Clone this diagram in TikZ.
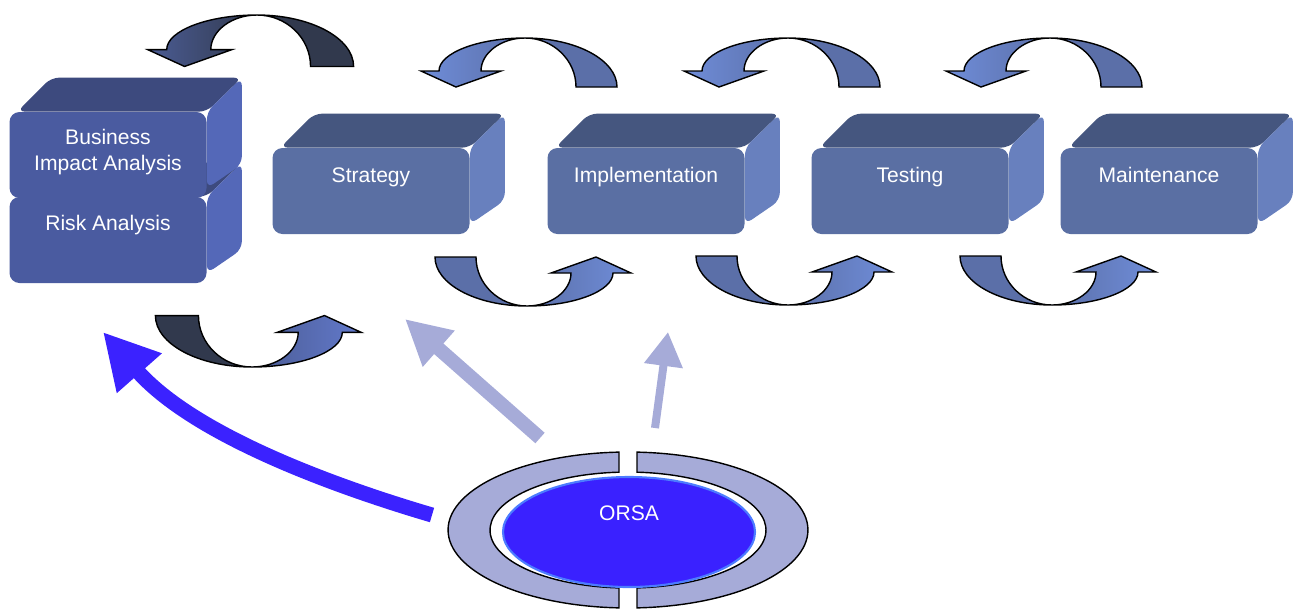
\documentclass[tikz,border=0pt]{standalone}
\usepackage{fontspec}
\setmainfont{Liberation Sans}
\usetikzlibrary{positioning}
\usetikzlibrary{arrows.meta,calc,shapes.geometric}
\pgfdeclarelayer{background}
\pgfsetlayers{background,main}
\newlength{\px}
\setlength{\px}{0.02cm}
\definecolor{boxfront}{HTML}{5A6FA3}
\definecolor{boxtop}{HTML}{45567F}
\definecolor{boxside}{HTML}{6880BE}
\definecolor{biafront}{HTML}{4A5BA0}
\definecolor{biatop}{HTML}{3D4A7E}
\definecolor{biaside}{HTML}{5468B8}
\definecolor{utail}{HTML}{5B6FA8}
\definecolor{ulight}{HTML}{6F8DD9}
\definecolor{dtail}{HTML}{31394D}
\definecolor{dmid}{HTML}{4B5C94}
\definecolor{dlight}{HTML}{6279CB}
\definecolor{ringblue}{HTML}{A6ABD8}
\definecolor{orsablue}{HTML}{3A21FF}
\definecolor{orsaedge}{HTML}{4C7CFF}
\definecolor{bigblue}{HTML}{3B22FF}
\tikzset{
  pics/uturn/.style n args={3}{code={
    \filldraw[fill=#1, line width=0.8pt] (0,0) .. controls (51,0) and (92,22) .. (92,49) -- (51,49) .. controls (51,22) and (28,0) .. (0,0) -- cycle;
    \draw[left color=#2, right color=#3, line width=0.8pt] (0,0) .. controls (-47,0) and (-86,15) .. (-86,33) -- (-104,33) -- (-69,49) -- (-24,33) -- (-44,33) .. controls (-44,15) and (-24,0) .. (0,0) -- cycle;
  }}
}

\begin{document}
\begin{tikzpicture}[x=1\px, y=-1\px,
					boxface/.style={rectangle, rounded corners=10\px, minimum width=197\px, minimum height=86\px, inner sep=0pt, fill=boxfront},
					biaface/.style={boxface, fill=biafront},
					lbl/.style={text=white, font=\fontsize{12}{14.4}\selectfont, align=center, anchor=base},
					flatarrow/.style={draw=ringblue},
					]
					\useasboundingbox (0,0) rectangle (1301,610);
					%Boxes
					\node[biaface]      (risk)    at 	(108,240)       {};
					\node[biaface]      (bia)     at 	(108,155)       {};
					\node[boxface]      (strat)   at 	(371,191)       {};
					\node[boxface]      (impl)    at 	(646,191)       {};
					\node[boxface]      (test)    at 	(910,191)       {};
					\node[boxface]      (maint)   at 	(1159,191)      {};
					
					\node[lbl]          (bia-t)   at 	([yshift=-15\px]bia.center)   {Business\\Impact Analysis};
					\node[lbl]          (risk-t)  at 	([yshift=10\px]risk.center)   {Risk Analysis};
					\node[lbl]          (strat-t) at 	([yshift=9\px]strat.center)   {Strategy};
					\node[lbl]          (impl-t)  at 	([yshift=9\px]impl.center)    {Implementation};
					\node[lbl]          (test-t)  at 	([yshift=9\px]test.center)    {Testing};
					\node[lbl]          (maint-t) at 	([yshift=9\px]maint.center)   {Maintenance};
					
					\begin{pgfonlayer}{background}
					%Box tops and sides
					\foreach \b/\tc/\sc in {risk/biatop/biaside, bia/biatop/biaside, strat/boxtop/boxside, impl/boxtop/boxside, test/boxtop/boxside, maint/boxtop/boxside} {
						\fill[\tc, rounded corners=8\px] ([xshift=8\px]\b.north west) -- ++(34,-34) -- ($(\b.north east)+(35,-34)$) -- (\b.north east) -- cycle;
						\fill[\sc, rounded corners=8\px] (\b.north east) -- ++(35,-34) -- ($(\b.south east)+(35,-34)$) -- ([yshift=10\px]\b.south east) -- cycle;
					}
					\end{pgfonlayer}
					
					%Turn arrows
					\pic[scale=1.05] at (257,15) {uturn={dtail}{dmid}{dtail}};
					\pic at (525,38) {uturn={utail}{ulight}{utail}};
					\pic at (788,38) {uturn={utail}{ulight}{utail}};
					\pic at (1050,38) {uturn={utail}{ulight}{utail}};
					\pic[rotate=180, scale=1.05] at (252,367) {uturn={dtail}{dmid}{dlight}};
					\pic[rotate=180] at (527,306) {uturn={utail}{utail}{ulight}};
					\pic[rotate=180] at (788,305) {uturn={utail}{utail}{ulight}};
					\pic[rotate=180] at (1052,305) {uturn={utail}{utail}{ulight}};
					
					%ORSA
					\filldraw[fill=ringblue, line width=0.8pt] (619,452.1) arc[start angle=92.87, end angle=267.13, x radius=3.6cm, y radius=1.56cm] -- (619,587.9) arc[start angle=266.26, end angle=93.74, x radius=2.76cm, y radius=1.16cm] -- cycle;
					\filldraw[fill=ringblue, line width=0.8pt] (637,452.1) arc[start angle=87.13, end angle=-87.13, x radius=3.6cm, y radius=1.56cm] -- (637,587.9) arc[start angle=-86.26, end angle=86.26, x radius=2.76cm, y radius=1.16cm] -- cycle;
					\node[ellipse, draw=orsaedge, line width=1.2pt, fill=orsablue, minimum width=252\px, minimum height=110\px, inner sep=0pt] (orsa) at (629,532) {};
					\node[lbl]          (orsa-t)  at 	([yshift=12\px]orsa.center)   {ORSA};
					
					%Arrows from ORSA
					\coordinate (bluetail) at (432,515);
					\coordinate (bluetip)  at (103,332);
					\coordinate (stail)    at (540,438);
					\coordinate (stip)     at (405,319);
					\coordinate (itail)    at (655,428);
					\coordinate (itip)     at (668,332);
					\draw[bigblue, line width=15\px, -{Triangle[length=1.1cm, width=1.12cm]}] (bluetail) .. controls (330,485) and (193,434) .. (bluetip);
					\draw[flatarrow, line width=14\px, -{Triangle[length=0.9cm, width=0.9cm]}] (stail) -- (stip);
					\draw[flatarrow, line width=8\px, -{Triangle[length=0.68cm, width=0.74cm]}] (itail) -- (itip);
				\end{tikzpicture}
\end{document}
